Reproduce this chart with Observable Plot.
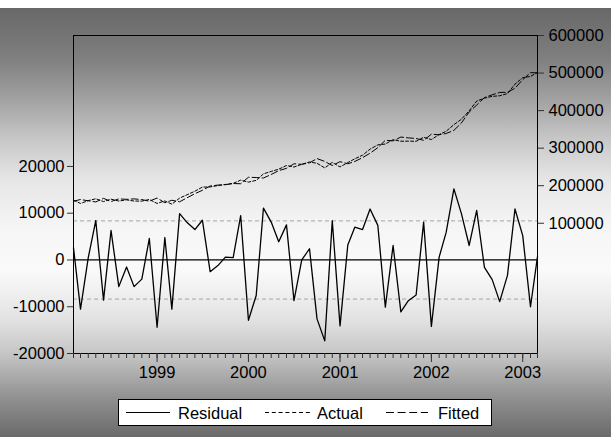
<!DOCTYPE html>
<html><head><meta charset="utf-8">
<script src="https://cdn.jsdelivr.net/npm/d3@7"></script>
<script src="https://cdn.jsdelivr.net/npm/@observablehq/plot@0.6"></script>
<style>
body{margin:0;}
#wrap{position:relative;width:611px;height:437px;overflow:hidden;
background:linear-gradient(to bottom,#fff 0px,#fff 8px,#686868 8px,#808080 60px,#a2a2a2 100px,#c8c8c8 140px,#e6e6e6 180px,#f6f6f6 230px,#fafafa 270px,#e2e2e2 320px,#c4c4c4 355px,#8e8e8e 400px,#6a6a6a 437px);
font-family:"Liberation Sans",Arial,sans-serif;}
#wrap > svg.chart{position:absolute;left:0;top:0;}
#wrap > svg#legend{position:absolute;left:118px;top:399px;}
</style></head><body><div id="wrap"></div>
<script>
// Monthly observations 1998M02 .. 2003M03
const firstMonth = "1998-02-01";
const endMonthExclusive = "2003-04-01";
const residual = [2600,-10500,500,8400,-8600,6300,-5700,-1500,-5700,-4100,4600,-14400,4800,-10500,9900,8000,6500,8500,-2500,-1200,600,500,9500,-12900,-7600,11100,8100,3900,7500,-8700,0,2400,-12600,-17300,8400,-14100,3200,7000,6500,10900,7400,-10100,3100,-11100,-8700,-7500,8100,-14200,600,5900,15200,9900,3100,10600,-1600,-4200,-8900,-3300,10900,5200,-10000,700];
const actual = [161300,152750,160250,165200,157700,164150,159150,162250,159150,158950,163300,152800,159400,150750,166950,176000,185250,196250,196750,200400,203300,206250,214750,209550,214200,231550,238050,243950,253750,249650,257000,263200,259700,247350,262200,249950,261600,271500,281250,297450,308700,310950,322550,318450,318650,318250,329050,322900,336300,344950,362600,376950,399550,425300,433200,437900,439550,445350,470450,487600,491000,501350];
const fitted = [158700,163250,159750,156800,166300,157850,164850,163750,164850,163050,158700,167200,154600,161250,157050,168000,178750,187750,199250,201600,202700,205750,205250,222450,221800,220450,229950,240050,246250,258350,257000,260800,272300,264650,253800,264050,258400,264500,274750,286550,301300,321050,319450,329550,327350,325750,320950,337100,335700,339050,347400,367050,396450,414700,434800,442100,448450,448650,459550,482400,501000,500650];
const residualBand = [-8360, 8360];
const leftTicks = [-20000,-10000,0,10000,20000];
const rightTicks = [100000,200000,300000,400000,500000,600000];
const yearLabels = ["1999","2000","2001","2002","2003"];
const seriesNames = ["Residual","Actual","Fitted"];

const months = d3.utcMonth.range(new Date(firstMonth), new Date(endMonthExclusive));
const yearDates = yearLabels.map(y => new Date(y + "-01-01"));
const xDomain = [months[0], months[months.length-1]];
const font = '"Liberation Sans",Arial,sans-serif';
const common = {
  width: 611, height: 437,
  marginLeft: 73, marginRight: 74, marginTop: 35, marginBottom: 84,
  style: {background: "transparent", fontFamily: font, fontSize: "16.5px", color: "black", overflow: "visible"}
};
const resData = residual.map((v,i) => ({date: months[i], v}));
const actData = actual.map((v,i) => ({date: months[i], v}));
const fitData = fitted.map((v,i) => ({date: months[i], v}));

const chart1 = Plot.plot({
  ...common,
  x: {type: "utc", domain: xDomain},
  y: {domain: [-20000, 48000]},
  marks: [
    Plot.ruleY(residualBand, {stroke: "#a4a4a4", strokeDasharray: "4,3", strokeWidth: 1}),
    Plot.ruleY([0], {stroke: "black", strokeWidth: 1.3}),
    Plot.lineY(resData, {x: "date", y: "v", stroke: "black", strokeWidth: 1.3}),
    Plot.frame({stroke: "black", strokeWidth: 1}),
    Plot.axisY(leftTicks, {anchor: "left", tickSize: 6, tickPadding: 3, tickFormat: d => String(d), fontSize: 16.5, label: null, stroke: "#333"}),
    Plot.axisX(months, {anchor: "bottom", tickSize: 5, tickFormat: () => "", label: null, stroke: "#333"}),
    Plot.axisX(yearDates, {anchor: "bottom", tickSize: 9, tickPadding: 4, tickFormat: (d,i) => yearLabels[i], fontSize: 16.5, label: null, stroke: "#333"})
  ]
});

const chart2 = Plot.plot({
  ...common,
  x: {type: "utc", domain: xDomain},
  y: {domain: [-246850, 600000]},
  marks: [
    Plot.lineY(actData, {x: "date", y: "v", stroke: "black", strokeWidth: 1, strokeDasharray: "3,2"}),
    Plot.lineY(fitData, {x: "date", y: "v", stroke: "black", strokeWidth: 1, strokeDasharray: "7,3"}),
    Plot.axisY(rightTicks, {anchor: "right", tickSize: 6, tickPadding: 5, tickFormat: d => String(d), fontSize: 16.5, label: null, stroke: "#333"}),
    Plot.axisX({ticks: [], label: null})
  ]
});

chart1.classList.add("chart");
chart2.classList.add("chart");
const wrap = document.getElementById("wrap");
wrap.appendChild(chart1);
wrap.appendChild(chart2);

// Legend
const lg = d3.select(wrap).append("svg").attr("id","legend").attr("width",374).attr("height",27)
  .style("position","absolute").style("left","118px").style("top","399px")
  .style("font-family", font).style("font-size","16.5px");
lg.append("rect").attr("x",0.5).attr("y",0.5).attr("width",373).attr("height",26).attr("fill","white").attr("stroke","black");
const items = [
  {x1: 8, x2: 52, tx: 60, dash: null},
  {x1: 147, x2: 192, tx: 199, dash: "4,2.8"},
  {x1: 268, x2: 310, tx: 320, dash: "8,3.6"}
];
items.forEach((it, i) => {
  lg.append("line").attr("x1",it.x1).attr("x2",it.x2).attr("y1",13.5).attr("y2",13.5)
    .attr("stroke","black").attr("stroke-width",1).attr("stroke-dasharray", it.dash);
  lg.append("text").attr("x",it.tx).attr("y",20).attr("fill","black").text(seriesNames[i]);
});
</script>
</body></html>
